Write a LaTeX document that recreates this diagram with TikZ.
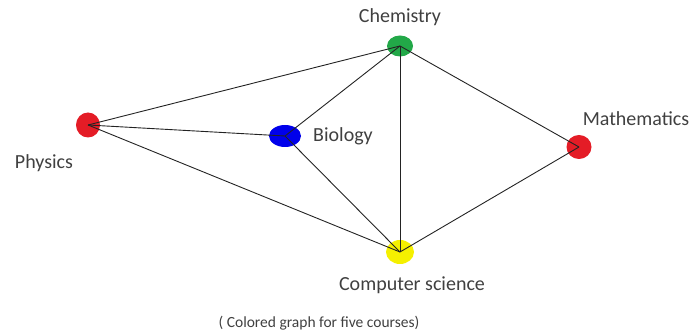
\documentclass[tikz,border=0pt]{standalone}
\usepackage{fontspec}
\setmainfont{Carlito}
\usetikzlibrary{shapes.geometric}
\definecolor{nred}{RGB}{228,28,38}
\definecolor{ngreen}{RGB}{34,168,72}
\definecolor{nblue}{RGB}{0,0,235}
\definecolor{nyellow}{RGB}{245,240,0}
\definecolor{txt}{RGB}{64,64,64}
\definecolor{edge}{RGB}{35,35,35}
\begin{document}
\begin{tikzpicture}[x=1pt,y=1pt,
  vert/.style={ellipse, inner sep=0pt, draw=none},
  lbl/.style={text=txt, font=\fontsize{20}{24}\selectfont, inner sep=0pt},
  captxt/.style={text=txt, font=\fontsize{15.5}{18}\selectfont, inner sep=0pt},
  link/.style={draw=edge, line width=0.9pt}]
\useasboundingbox (0,0) rectangle (692,334);
\node[vert, fill=nred, minimum width=24pt, minimum height=25pt] (phy) at (88,209) {};
\node[vert, fill=ngreen, minimum width=26pt, minimum height=21pt] (che) at (400,288) {};
\node[vert, fill=nblue, minimum width=32pt, minimum height=22pt] (bio) at (285,198) {};
\node[vert, fill=nred, minimum width=25pt, minimum height=24pt] (mat) at (579,187) {};
\node[vert, fill=nyellow, minimum width=28pt, minimum height=24pt] (cs) at (400,82) {};
\draw[link] (phy.center) -- (che.center);
\draw[link] (phy.center) -- (bio.center);
\draw[link] (phy.center) -- (cs.center);
\draw[link] (bio.center) -- (che.center);
\draw[link] (bio.center) -- (cs.center);
\draw[link] (che.center) -- (cs.center);
\draw[link] (che.center) -- (mat.center);
\draw[link] (mat.center) -- (cs.center);
\node[lbl] (lche) at (400,317) {Chemistry};
\node[lbl] (lphy) at (44,171) {Physics};
\node[lbl, anchor=west] (lbio) at (313,198) {Biology};
\node[lbl] (lmat) at (636,215) {Mathematics};
\node[lbl] (lcs) at (412,49) {Computer science};
\node[captxt] (lcap) at (319,11) {( Colored graph for five courses)};
\end{tikzpicture}
\end{document}
